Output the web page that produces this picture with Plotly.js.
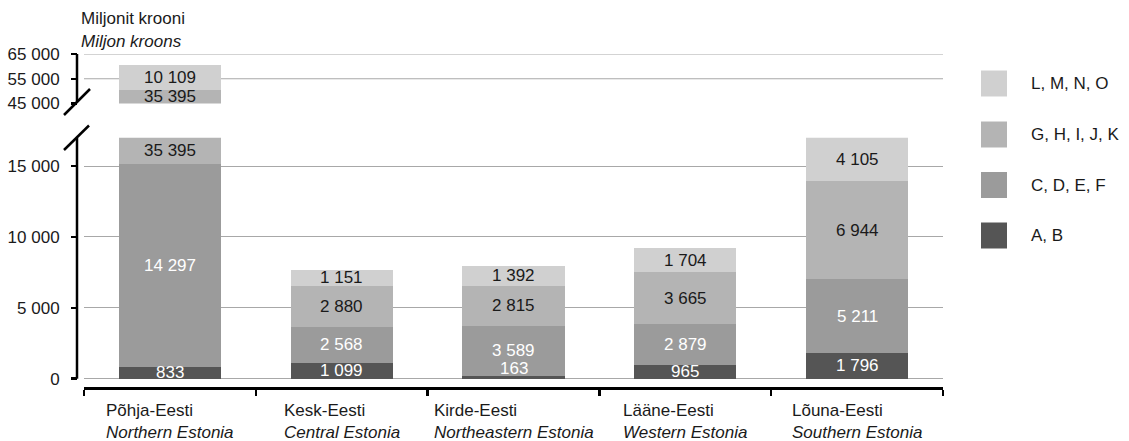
<!DOCTYPE html>
<html>
<head>
<meta charset="utf-8">
<script src="https://cdn.plot.ly/plotly-3.0.1.min.js"></script>
<style>html,body{margin:0;padding:0;background:#fff;}#chart{width:1129px;height:441px;}</style>
</head>
<body>
<div id="chart"></div>
<script>
// ---- Data ----
const categories = ['Põhja-Eesti', 'Kesk-Eesti', 'Kirde-Eesti', 'Lääne-Eesti', 'Lõuna-Eesti'];
const categoriesEn = ['Northern Estonia', 'Central Estonia', 'Northeastern Estonia', 'Western Estonia', 'Southern Estonia'];
const seriesNames = ['A, B', 'C, D, E, F', 'G, H, I, J, K', 'L, M, N, O'];
const valsAB = [833, 1099, 163, 965, 1796];
const valsCF = [14297, 2568, 3589, 2879, 5211];
const valsGK = [35395, 2880, 2815, 3665, 6944];
const valsLO = [10109, 1151, 1392, 1704, 4105];
const lowerTickVals = [0, 5000, 10000, 15000];
const lowerTickText = ['0', '5 000', '10 000', '15 000'];
const upperTickVals = [45000, 55000, 65000];
const upperTickText = ['45 000', '55 000', '65 000'];
const unitTitle = 'Miljonit krooni';
const unitTitleEn = 'Miljon kroons';

// ---- Styles ----
const FONT = 'Liberation Sans, Arial, Helvetica, sans-serif';
const FS = 17;
const colors = ['#555555', '#9b9b9b', '#b4b4b4', '#d0d0d0'];
const textColors = ['#ffffff', '#ffffff', '#1a1a1a', '#1a1a1a'];
const series = [valsAB, valsCF, valsGK, valsLO];

const W = 1129, H = 441;
const M = {l: 77, r: 186, t: 54, b: 54};
const PW = W - M.l - M.r, PH = H - M.t - M.b;
const px2x = px => (px - M.l) / PW;
const px2y = py => (H - M.b - py) / PH;

const lowerRange = [-585, 17000];
const upperRange = [45000, 65000];
const lowerDomain = [0, px2y(137.7)];
const upperDomain = [px2y(103.5), 1];
const xDomain = [px2x(84), 1];

const traces = [];
series.forEach((vals, i) => {
  ['y', 'y2'].forEach(ax => {
    traces.push({
      type: 'bar', x: categories, y: vals, name: seriesNames[i],
      marker: {color: colors[i], line: {width: 0}},
      width: 0.595, yaxis: ax, xaxis: 'x', showlegend: false, hoverinfo: 'skip'
    });
  });
});

const fmt = v => String(v).replace(/\B(?=(\d{3})+(?!\d))/g, ' ');
const annotations = [];
const axesInfo = [
  {ref: 'y', lo: 0, hi: lowerRange[1], ppu: (lowerDomain[1] - lowerDomain[0]) * PH / (lowerRange[1] - lowerRange[0])},
  {ref: 'y2', lo: upperRange[0], hi: upperRange[1], ppu: (upperDomain[1] - upperDomain[0]) * PH / (upperRange[1] - upperRange[0])}
];
categories.forEach((cat, j) => {
  let cum = 0;
  series.forEach((vals, i) => {
    const b = cum, t = cum + vals[j];
    cum = t;
    axesInfo.forEach(a => {
      const vb = Math.max(b, a.lo), vt = Math.min(t, a.hi);
      if (vt > vb) {
        const mid = (vb + vt) / 2;
        const half = (vt - vb) / 2 * a.ppu;
        annotations.push({
          xref: 'x', yref: a.ref, x: cat, y: mid, text: fmt(vals[j]),
          showarrow: false, xanchor: 'center', yanchor: 'middle',
          yshift: half < 4 ? 10 - half : 0,
          font: {family: FONT, size: FS, color: textColors[i]}
        });
      }
    });
  });
  annotations.push({
    xref: 'x', yref: 'paper', x: cat, y: px2y(398.5), yanchor: 'top', xanchor: 'center',
    align: 'left', showarrow: false,
    text: categories[j] + '<br><i>' + categoriesEn[j] + '</i>',
    font: {family: FONT, size: FS, color: '#1a1a1a'}
  });
});

annotations.push({xref: 'paper', yref: 'paper', x: px2x(79), y: px2y(18.5), xanchor: 'left', yanchor: 'middle',
  showarrow: false, text: unitTitle, font: {family: FONT, size: FS, color: '#1a1a1a'}});
annotations.push({xref: 'paper', yref: 'paper', x: px2x(79), y: px2y(41.5), xanchor: 'left', yanchor: 'middle',
  showarrow: false, text: '<i>' + unitTitleEn + '</i>', font: {family: FONT, size: FS, color: '#1a1a1a'}});

// legend (manual), top to bottom: reversed series order
const shapes = [];
const legendY = [83.5, 134.5, 185, 235.5];
for (let k = 0; k < 4; k++) {
  const i = 3 - k;
  const cy = legendY[k];
  shapes.push({type: 'rect', xref: 'paper', yref: 'paper',
    x0: px2x(981), x1: px2x(1007), y0: px2y(cy + 13), y1: px2y(cy - 13),
    fillcolor: colors[i], line: {width: 0}});
  annotations.push({xref: 'paper', yref: 'paper', x: px2x(1029), y: px2y(cy), xanchor: 'left', yanchor: 'middle',
    showarrow: false, text: seriesNames[i], font: {family: FONT, size: FS, color: '#1a1a1a'}});
}

// upper gridlines
[55000, 65000].forEach(v => shapes.push({type: 'line', xref: 'paper', yref: 'y2', x0: xDomain[0], x1: 1, y0: v, y1: v,
  line: {color: '#a8a8a8', width: 1}, layer: 'below'}));
// axis lines with break
shapes.push({type: 'line', xref: 'paper', yref: 'y', x0: 0, x1: 0, y0: 0, y1: lowerRange[1] + 120, line: {color: '#000', width: 2.5}});
shapes.push({type: 'line', xref: 'paper', yref: 'y2', x0: 0, x1: 0, y0: 45700, y1: 65000, line: {color: '#000', width: 2.5}});
shapes.push({type: 'line', xref: 'paper', yref: 'paper', x0: px2x(64), y0: px2y(115), x1: px2x(90), y1: px2y(89), line: {color: '#000', width: 2.5}});
shapes.push({type: 'line', xref: 'paper', yref: 'paper', x0: px2x(64), y0: px2y(150), x1: px2x(89), y1: px2y(125.5), line: {color: '#000', width: 2.5}});

const tickFont = {family: FONT, size: FS, color: '#1a1a1a'};
const layout = {
  width: W, height: H,
  margin: M,
  paper_bgcolor: '#fff', plot_bgcolor: 'rgba(0,0,0,0)',
  barmode: 'stack', showlegend: false,
  xaxis: {type: 'category', domain: xDomain, range: [-0.5, 4.5], anchor: 'y',
    showline: true, linecolor: '#000', linewidth: 3,
    ticks: 'outside', tickson: 'boundaries', ticklen: 6, tickwidth: 2.5, tickcolor: '#000',
    showticklabels: false, showgrid: false, zeroline: false, fixedrange: true},
  yaxis: {domain: lowerDomain, range: lowerRange, anchor: 'free', position: 0,
    tickvals: lowerTickVals, ticktext: lowerTickText, tickfont: tickFont,
    ticks: 'outside', ticklen: 6, tickwidth: 2.5, tickcolor: '#000', ticklabelstandoff: 8,
    showline: false, showgrid: true, gridcolor: '#a8a8a8', gridwidth: 1, zeroline: false, fixedrange: true},
  yaxis2: {domain: upperDomain, range: upperRange, anchor: 'free', position: 0,
    tickvals: upperTickVals, ticktext: upperTickText, tickfont: tickFont,
    ticks: 'outside', ticklen: 6, tickwidth: 2.5, tickcolor: '#000', ticklabelstandoff: 8,
    showline: false, showgrid: false, zeroline: false, fixedrange: true},
  annotations: annotations,
  shapes: shapes
};

Plotly.newPlot('chart', traces, layout, {displayModeBar: false, staticPlot: true});
</script>
</body>
</html>
